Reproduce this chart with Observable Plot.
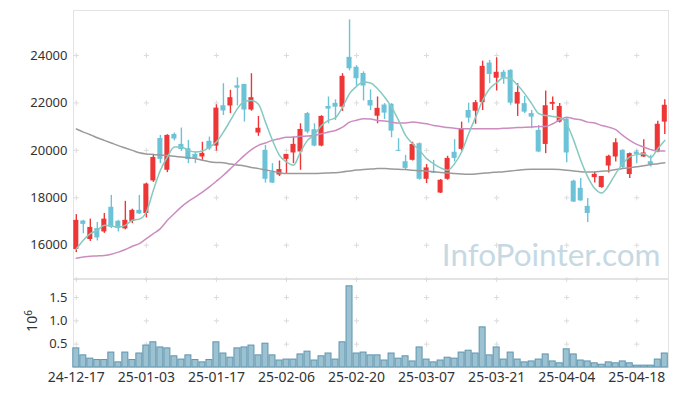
<!DOCTYPE html>
<html><head><meta charset="utf-8">
<script src="https://cdn.jsdelivr.net/npm/d3@7"></script>
<script src="https://cdn.jsdelivr.net/npm/@observablehq/plot@0.6"></script>
<style>
body{margin:0;background:#fff;}
#chart{width:677px;height:396px;font-family:"Noto Sans",sans-serif;}
#chart svg{display:block;}
</style></head><body><div id="chart"></div>
<script>
// Trading days (categories)
const dates = ["24-12-17","24-12-18","24-12-19","24-12-20","24-12-23","24-12-24","24-12-26","24-12-27","24-12-30",
"25-01-02","25-01-03","25-01-06","25-01-07","25-01-08","25-01-09","25-01-10","25-01-13","25-01-14","25-01-15","25-01-16","25-01-17",
"25-01-20","25-01-21","25-01-22","25-01-23","25-01-24","25-01-31","25-02-03","25-02-04","25-02-05","25-02-06",
"25-02-07","25-02-10","25-02-11","25-02-12","25-02-13","25-02-14","25-02-17","25-02-18","25-02-19","25-02-20",
"25-02-21","25-02-24","25-02-25","25-02-26","25-02-27","25-02-28","25-03-04","25-03-05","25-03-06","25-03-07",
"25-03-10","25-03-11","25-03-12","25-03-13","25-03-14","25-03-17","25-03-18","25-03-19","25-03-20","25-03-21",
"25-03-24","25-03-25","25-03-26","25-03-27","25-03-28","25-03-31","25-04-01","25-04-02","25-04-03","25-04-04",
"25-04-07","25-04-08","25-04-09","25-04-10","25-04-11","25-04-14","25-04-15","25-04-16","25-04-17","25-04-18",
"25-04-21","25-04-22","25-04-23","25-04-24"];
const tickLabels = ["24-12-17","25-01-03","25-01-17","25-02-06","25-02-20","25-03-07","25-03-21","25-04-04","25-04-18"];
const priceTicks = [16000,18000,20000,22000,24000];
const volumeTicks = [0.5,1.0,1.5];

const open  = [15820,17020,16240,16700,16560,17600,17010,16690,17000,17470,17340,18710,20500,19160,20670,20250,20070,19830,19720,20380,20180,
21880,21870,22720,22780,21700,20730,20000,19090,18960,19620,19890,19930,21550,20870,20180,21850,21980,21820,23920,23500,
23240,22100,21440,21910,21940,20000,19520,19580,20280,18780,19100,18200,18780,19920,20040,21680,21650,22010,23680,23040,
23290,23370,21950,21970,21550,20840,20250,21940,21190,21310,18700,18400,17640,18850,18430,19340,19720,20000,18980,19930,
19720,19520,19930,21190];
const high  = [17290,17050,17100,16960,17340,18100,17050,17850,17520,18100,18620,19830,20630,20660,20730,20940,20420,19930,20340,20560,21920,
22810,22530,23060,22780,23230,21430,20210,19440,19550,19830,20560,21120,21600,21120,21460,22250,22130,23230,25500,23570,
23310,22550,22250,21970,21970,20490,19790,20340,20310,19400,19580,18770,19750,20450,21190,21990,22100,23760,23790,23900,
23370,23400,22810,22270,21680,21050,22500,22250,21970,21340,18740,18810,17970,19090,18900,19790,20490,20030,19890,20000,
20450,19790,21230,22130];
const low   = [15690,16490,16160,16180,16500,16700,16560,16650,16910,17300,17150,18650,19440,19060,20400,19950,19440,19440,19580,20000,19970,
21470,21550,21870,21190,21650,20590,18620,18600,18900,19020,19440,19160,20700,20150,20150,21120,21260,21640,23350,22700,
22080,21680,21120,21300,20530,19950,19160,19550,18740,18600,19020,18180,18740,19510,19970,21150,21100,21680,22810,22500,
22780,21900,21430,21550,20910,19900,19860,21680,21150,19480,17800,17850,16960,18620,18400,19040,19510,19200,18810,19440,
19700,19300,19900,20670];
const close = [17050,16880,16750,16310,17100,16760,16700,17050,17470,17320,18580,19700,19620,20630,20480,20030,19610,19660,19870,20060,21780,
21660,22220,22620,21700,22220,20930,18780,18620,19190,19830,20250,20880,20770,20180,21430,21740,21820,23120,23440,23020,
22710,21870,21770,21570,20810,19960,19240,20250,18780,19260,19040,18740,19660,19660,20880,21360,22010,23540,23200,23290,
23040,21990,22440,21610,21400,19930,21880,22020,21850,19890,17820,17870,17340,18990,18900,19750,20320,19270,19860,19830,
19890,19400,21100,21900];
// volume in millions of shares
const volume = [0.41,0.26,0.19,0.16,0.16,0.32,0.11,0.32,0.16,0.30,0.47,0.54,0.43,0.41,0.24,0.17,0.26,0.16,0.11,0.16,0.54,
0.30,0.21,0.41,0.43,0.47,0.26,0.51,0.26,0.15,0.17,0.17,0.28,0.34,0.15,0.24,0.30,0.17,0.54,1.74,0.30,
0.32,0.26,0.26,0.15,0.30,0.19,0.24,0.13,0.43,0.17,0.11,0.15,0.21,0.19,0.32,0.36,0.30,0.86,0.26,0.43,
0.17,0.32,0.17,0.11,0.13,0.17,0.28,0.13,0.09,0.39,0.28,0.15,0.13,0.09,0.06,0.11,0.09,0.13,0.09,0.04,
0.04,0.04,0.17,0.30];
// moving averages
const ma5 = [15840,16210,16490,16630,16840,16810,16770,16840,17050,17100,17400,18320,19160,19720,20140,20140,20000,19930,19970,20140,20350,
20770,21260,21760,22060,22100,21940,21190,20420,19790,19510,19370,19930,20420,20670,21050,21260,21380,21820,22390,22700,
22880,22840,22600,22250,21820,21260,20630,20280,20000,19650,19440,19260,19160,19440,19930,20700,21400,22100,22600,22850,
23060,23020,22740,22390,21970,21550,21470,21430,21380,21120,20420,19580,18880,18390,18200,18530,19020,19440,19720,19830,
19860,19690,20070,20420];
const ma20 = [15450,15500,15540,15550,15570,15620,15710,15820,15960,16070,16280,16490,16700,17050,17340,17620,17850,18040,18240,18460,18700,
18950,19230,19510,19790,20030,20210,20310,20420,20490,20550,20560,20590,20600,20630,20700,20770,20840,20980,21190,21270,
21330,21320,21260,21240,21190,21150,21150,21190,21160,21120,21050,21010,20960,20930,20910,20910,20910,20910,20910,20910,
20930,20940,20960,20970,20980,21000,21010,21120,21290,21400,21330,21290,21190,21150,21050,20980,20870,20630,20420,20250,
20140,20030,19970,19970];
const ma60 = [20900,20770,20660,20530,20420,20310,20200,20100,20000,19900,19850,19830,19800,19780,19750,19720,19690,19660,19580,19520,19490,
19480,19420,19380,19340,19280,19230,19170,19120,19060,19020,19020,19020,19020,19020,19030,19050,19060,19090,19130,19170,
19190,19210,19230,19230,19210,19200,19190,19160,19140,19130,19100,19070,19050,19020,19000,18990,19000,19030,19060,19080,
19100,19130,19160,19190,19200,19200,19200,19200,19190,19160,19130,19100,19090,19090,19120,19140,19190,19230,19270,19310,
19350,19400,19440,19480];

const rows = dates.map((d, i) => ({i, date: d, open: open[i], high: high[i], low: low[i], close: close[i], vol: volume[i],
  ma5: ma5[i], ma20: ma20[i], ma60: ma60[i]}));
const tickIdx = tickLabels.map(l => dates.indexOf(l));
const RED = "#ee3636", BLUE = "#6cc3d8";
const col = d => d.close >= d.open ? RED : BLUE;
const xDomain = [-0.4, 84.53];
const gridTop = tickIdx.flatMap(x => priceTicks.map(y => ({x, y})));
const gridBot = tickIdx.flatMap(x => volumeTicks.concat([1.886]).map(y => ({x, y})));
const font = {fontFamily: "'Noto Sans', sans-serif", fontSize: "13px", color: "#333", background: "white", overflow: "visible"};

const topPlot = Plot.plot({
  width: 677, height: 279, marginLeft: 73, marginRight: 9, marginTop: 10, marginBottom: 1,
  style: font,
  x: {domain: xDomain, axis: null},
  y: {domain: [14598, 25895], ticks: priceTicks, tickFormat: d => String(d), tickSize: 0, tickPadding: 6, label: null},
  marks: [
    Plot.frame({stroke: "#e3e3e3"}),
    Plot.dot(gridTop, {x: "x", y: "y", symbol: "plus", r: 1.8, stroke: "#dcdcdc", strokeWidth: 1}),
    Plot.text(["InfoPointer.com"], {frameAnchor: "bottom-right", textAnchor: "end", lineAnchor: "bottom",
      dx: -8, dy: -13, fontSize: 31.5, fill: "#c6d9e3", fontFamily: "Lato, sans-serif"}),
    Plot.ruleX(rows, {x: "i", y1: "low", y2: "high", stroke: col, strokeWidth: 1.4}),
    Plot.rect(rows, {x1: d => d.i - 0.36, x2: d => d.i + 0.36, y1: "open", y2: "close", fill: col}),
    Plot.line(rows, {x: "i", y: "ma60", stroke: "#9a9a9a", strokeWidth: 1.5, curve: "monotone-x"}),
    Plot.line(rows, {x: "i", y: "ma20", stroke: "#cc8cc0", strokeWidth: 1.5, curve: "monotone-x"}),
    Plot.line(rows, {x: "i", y: "ma5", stroke: "#86c9bf", strokeWidth: 1.5, curve: "monotone-x"})
  ]
});

const botPlot = Plot.plot({
  width: 677, height: 117, marginLeft: 73, marginRight: 9, marginTop: 0, marginBottom: 29,
  style: font,
  x: {domain: xDomain, ticks: tickIdx, tickFormat: i => dates[i], tickSize: 0, tickPadding: 5, label: null},
  y: {domain: [0, 1.886], ticks: volumeTicks, tickFormat: d3.format(".1f"), tickSize: 0, tickPadding: 6, label: null},
  marks: [
    Plot.frame({stroke: "#e3e3e3"}),
    Plot.dot(gridBot, {x: "x", y: "y", symbol: "plus", r: 1.8, stroke: "#dcdcdc", strokeWidth: 1}),
    Plot.rectY(rows, {x1: d => d.i - 0.5, x2: d => d.i + 0.5, y: "vol", fill: "#9cc1d1", stroke: "#5f95af", strokeWidth: 1, insetLeft: 0.5, insetRight: 0.5})
  ]
});

const chart = document.getElementById("chart");
chart.append(topPlot, botPlot);

// larger x tick labels
d3.select(botPlot).selectAll("[aria-label='x-axis tick label'] text").style("font-size", "14px");

// y-unit label "10^6" for the volume panel
const lab = d3.select(botPlot).append("text")
  .attr("transform", "translate(37,42) rotate(-90)")
  .attr("text-anchor", "middle").attr("fill", "#333")
  .style("font-family", "'Noto Sans', sans-serif").style("font-size", "14px");
lab.append("tspan").text("10");
lab.append("tspan").attr("dy", "-0.5em").style("font-size", "10px").text("6");
</script></body></html>
